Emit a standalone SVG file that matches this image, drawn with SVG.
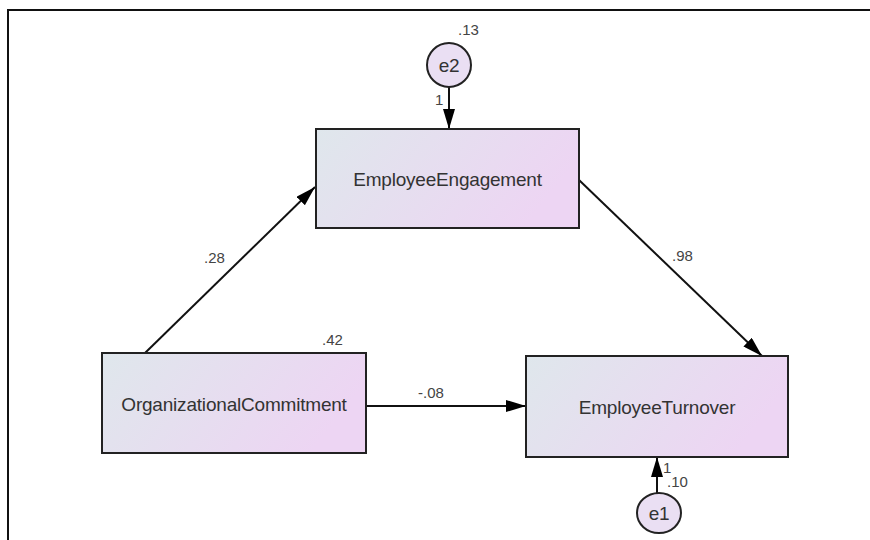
<svg xmlns="http://www.w3.org/2000/svg" width="870" height="540" viewBox="0 0 870 540">
<defs>
<linearGradient id="g" x1="0" y1="0" x2="1" y2="0.3">
<stop offset="0" stop-color="#dfe7ec"/>
<stop offset="1" stop-color="#edd5f3"/>
</linearGradient>
<marker id="ah" viewBox="0 0 20 12" refX="20" refY="6" markerWidth="20" markerHeight="12" markerUnits="userSpaceOnUse" orient="auto">
<path d="M0,0 L20,6 L0,12 Z" fill="#000"/>
</marker>
</defs>
<style>
.box{fill:url(#g);stroke:#222;stroke-width:2}
.err{fill:#eadff3;stroke:#222;stroke-width:2}
.lbl{font-family:"Liberation Sans",Arial,sans-serif;font-size:19px;fill:#333;text-anchor:middle;letter-spacing:-0.2px}
.num{font-family:"Liberation Sans",Arial,sans-serif;font-size:15px;fill:#444}
.conn{stroke:#111;stroke-width:2;fill:none;marker-end:url(#ah)}
</style>
<rect width="870" height="540" fill="#fff"/>
<path d="M8,540 L8,10 L870,10" fill="none" stroke="#111" stroke-width="2"/>
<g id="connectors">
<line class="conn" x1="449" y1="87" x2="449" y2="129"/>
<line class="conn" x1="145" y1="353" x2="315" y2="187"/>
<line class="conn" x1="579" y1="180" x2="762" y2="356"/>
<line class="conn" x1="366" y1="406" x2="526" y2="406"/>
<line class="conn" x1="657" y1="493" x2="657" y2="457"/>
<text class="num" x="204" y="263">.28</text>
<text class="num" x="672" y="261">.98</text>
<text class="num" x="418" y="398">-.08</text>
<text class="num" x="435" y="105">1</text>
<text class="num" x="663" y="473">1</text>
</g>
<g id="e2">
<circle class="err" cx="449" cy="65" r="22"/>
<text class="lbl" x="449" y="72">e2</text>
<text class="num" x="458" y="35">.13</text>
</g>
<g id="EmployeeEngagement">
<rect class="box" x="316" y="129" width="263" height="99"/>
<text class="lbl" x="447.5" y="186">EmployeeEngagement</text>
</g>
<g id="OrganizationalCommitment">
<rect class="box" x="102" y="353" width="264" height="100"/>
<text class="lbl" x="234" y="411">OrganizationalCommitment</text>
<text class="num" x="322" y="345">.42</text>
</g>
<g id="EmployeeTurnover">
<rect class="box" x="526" y="356" width="262" height="101"/>
<text class="lbl" x="657" y="414">EmployeeTurnover</text>
</g>
<g id="e1">
<ellipse class="err" cx="659" cy="513" rx="22" ry="20"/>
<text class="lbl" x="659" y="520">e1</text>
<text class="num" x="667" y="487">.10</text>
</g>
</svg>
